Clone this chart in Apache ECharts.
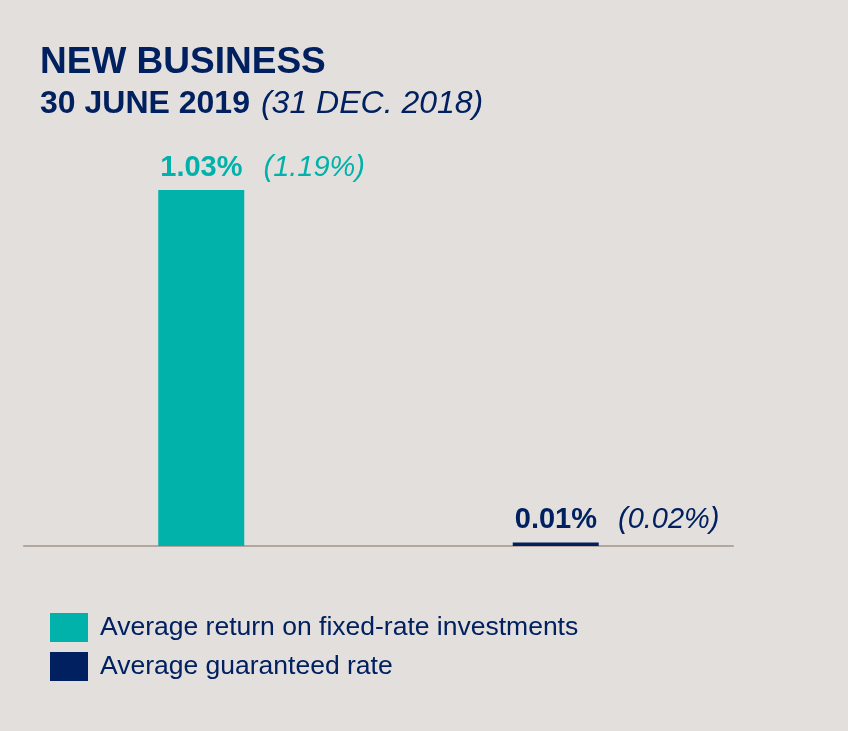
<!DOCTYPE html>
<html>
<head>
<meta charset="utf-8">
<script src="https://cdn.jsdelivr.net/npm/echarts@6/dist/echarts.min.js"></script>
<style>
  html, body { margin: 0; padding: 0; background: #e3dfdd; }
  #chart { width: 848px; height: 731px; }
</style>
</head>
<body>
<div id="chart"></div>
<script>
// Rates at 30 June 2019, with 31 Dec. 2018 shown in brackets
const seriesNames = ['Average return on fixed-rate investments', 'Average guaranteed rate'];
const currentValues = [1.03, 0.01];
const priorValues = [1.19, 0.02];
const colors = ['#00b2a9', '#002060'];

const navy = '#002060';
const font = '"Liberation Sans", Arial, Helvetica, sans-serif';

const fmt = v => v.toFixed(2) + '%';

// One stacked series per rate so each bar sits centred in its own category
const series = seriesNames.map((name, i) => ({
  name: name,
  type: 'bar',
  stack: 'rates',
  barWidth: 86,
  itemStyle: { color: colors[i] },
  data: currentValues.map((v, j) => (j === i ? v : null)),
  label: {
    show: true,
    position: [2, -8],
    align: 'left',
    verticalAlign: 'bottom',
    formatter: () => '{a|' + fmt(currentValues[i]) + '}{b|(' + fmt(priorValues[i]) + ')}',
    rich: {
      a: { fontFamily: font, fontSize: 29, fontWeight: 'bold', color: colors[i] },
      b: { fontFamily: font, fontSize: 29, fontWeight: 'normal', fontStyle: 'italic', color: colors[i], padding: [0, 0, 0, 21] }
    }
  }
}));

const chart = echarts.init(document.getElementById('chart'));
chart.setOption({
  backgroundColor: '#e3dfdd',
  animation: false,
  title: [
    {
      text: 'NEW BUSINESS',
      left: 40,
      top: 44,
      padding: 0,
      textStyle: { fontFamily: font, fontSize: 37, fontWeight: 'bold', color: navy }
    },
    {
      text: '{b|30 JUNE 2019}{i|(31 DEC. 2018)}',
      left: 40,
      top: 88,
      padding: 0,
      textStyle: {
        fontWeight: 'normal',
        rich: {
          b: { fontFamily: font, fontSize: 32, fontWeight: 'bold', color: navy },
          i: { fontFamily: font, fontSize: 32, fontWeight: 'normal', fontStyle: 'italic', color: navy, padding: [0, 0, 0, 11] }
        }
      }
    }
  ],
  legend: {
    orient: 'vertical',
    left: 50,
    top: 613,
    padding: 0,
    itemWidth: 38,
    itemHeight: 29,
    itemGap: 10,
    icon: 'rect',
    selectedMode: false,
    data: seriesNames,
    textStyle: { fontFamily: font, fontSize: 26.5, color: navy, padding: [0, 0, 0, 7] }
  },
  grid: { left: 24, right: 115, top: 190, bottom: 185 },
  xAxis: {
    type: 'category',
    data: seriesNames,
    axisLine: { show: true, lineStyle: { color: '#b3a69d', width: 2 } },
    axisTick: { show: false },
    axisLabel: { show: false }
  },
  yAxis: {
    type: 'value',
    min: 0,
    max: currentValues[0],
    show: false,
    splitLine: { show: false }
  },
  series: series
});
</script>
</body>
</html>
